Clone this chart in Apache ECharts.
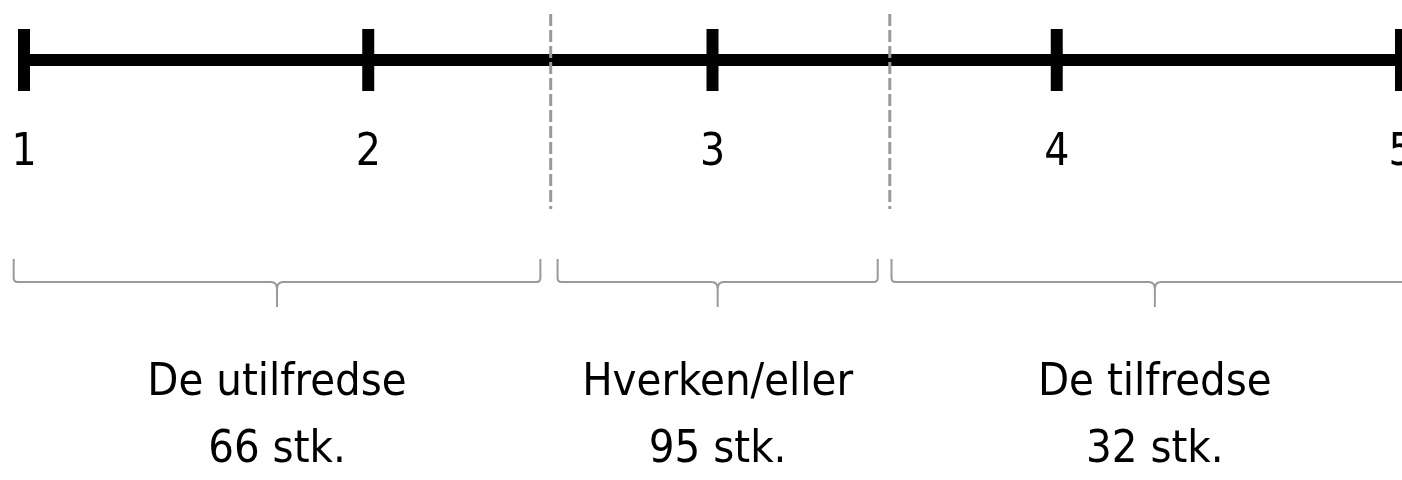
<!DOCTYPE html>
<html>
<head>
<meta charset="utf-8">
<script src="https://cdn.jsdelivr.net/npm/echarts@6/dist/echarts.min.js"></script>
<style>
html,body{margin:0;padding:0;background:#fff;overflow:hidden;}
#c{width:1402px;height:480px;}
</style>
</head>
<body>
<div id="c"></div>
<script>
const ticks = [1, 2, 3, 4, 5];
const tickLabels = ['1', '2', '3', '4', '5'];
const boundaries = [2.53, 3.515];
const groupNames = ['De utilfredse', 'Hverken/eller', 'De tilfredse'];
const groupCounts = [66, 95, 32];
const groupStart = [0.97, 2.55, 3.52];
const groupEnd = [2.5, 3.48, 5.05];

const FONT = "'DejaVu Sans Condensed', 'DejaVu Sans', sans-serif";
const GRAY = '#9a9a9a';

const chart = echarts.init(document.getElementById('c'), null, {renderer: 'canvas', width: 1402, height: 480});

function bracePath(x0, x1) {
  const cx = (x0 + x1) / 2;
  const yTop = 259, yH = 282, yTip = 307, r = 4;
  return 'M' + x0 + ' ' + yTop + ' L' + x0 + ' ' + (yH - r) +
    ' Q' + x0 + ' ' + yH + ' ' + (x0 + r) + ' ' + yH +
    ' L' + (cx - 6) + ' ' + yH +
    ' Q' + cx + ' ' + yH + ' ' + cx + ' ' + (yH + 7) +
    ' L' + cx + ' ' + yTip +
    ' M' + cx + ' ' + (yH + 7) +
    ' Q' + cx + ' ' + yH + ' ' + (cx + 6) + ' ' + yH +
    ' L' + (x1 - r) + ' ' + yH +
    ' Q' + x1 + ' ' + yH + ' ' + x1 + ' ' + (yH - r) +
    ' L' + x1 + ' ' + yTop;
}

const option = {
  animation: false,
  grid: {left: 24, right: 1, top: 29, height: 62, containLabel: false, outerBoundsMode: 'none'},
  xAxis: {
    type: 'value', min: 1, max: 5, interval: 1,
    axisLine: {show: true, onZero: true, lineStyle: {color: '#000', width: 12, cap: 'butt'}},
    axisTick: {show: false},
    splitLine: {show: false},
    axisLabel: {
      show: true, margin: 41, fontSize: 44, lineHeight: 44, color: '#000', fontFamily: FONT,
      showMinLabel: true, showMaxLabel: true, hideOverlap: false,
      formatter: function (v) { return tickLabels[ticks.indexOf(v)]; }
    }
  },
  yAxis: {type: 'value', min: -1, max: 1, show: false},
  series: [
    {
      type: 'scatter',
      data: ticks.map(v => [v, 0]),
      symbol: 'rect',
      symbolSize: [12, 62],
      itemStyle: {color: '#000', opacity: 1},
      silent: true, z: 3
    },
    {
      type: 'custom',
      coordinateSystem: 'cartesian2d',
      clip: false, z: 5, silent: true,
      data: boundaries.map(b => [b, 0]),
      renderItem: function (params, api) {
        const x = api.coord([api.value(0), 0])[0];
        return {
          type: 'line',
          shape: {x1: x, y1: 14, x2: x, y2: 209},
          style: {stroke: GRAY, lineWidth: 3, lineDash: [12, 4]}
        };
      }
    },
    {
      type: 'custom',
      coordinateSystem: 'cartesian2d',
      clip: false, z: 5, silent: true,
      data: groupNames.map((n, i) => [groupStart[i], groupEnd[i], i]),
      encode: {x: [0, 1]},
      renderItem: function (params, api) {
        const x0 = api.coord([api.value(0), 0])[0];
        const x1 = api.coord([api.value(1), 0])[0];
        const i = api.value(2);
        const cx = (x0 + x1) / 2;
        return {
          type: 'group',
          children: [
            {type: 'path', shape: {pathData: bracePath(x0, x1)},
             style: {stroke: GRAY, lineWidth: 2, fill: null}},
            {type: 'text', x: cx, y: 383,
             style: {text: groupNames[i], fontSize: 45, fontFamily: FONT, fill: '#000',
                     align: 'center', verticalAlign: 'middle'}},
            {type: 'text', x: cx, y: 450,
             style: {text: groupCounts[i] + ' stk.', fontSize: 45, fontFamily: FONT, fill: '#000',
                     align: 'center', verticalAlign: 'middle'}}
          ]
        };
      }
    }
  ]
};
chart.setOption(option);
</script>
</body>
</html>
